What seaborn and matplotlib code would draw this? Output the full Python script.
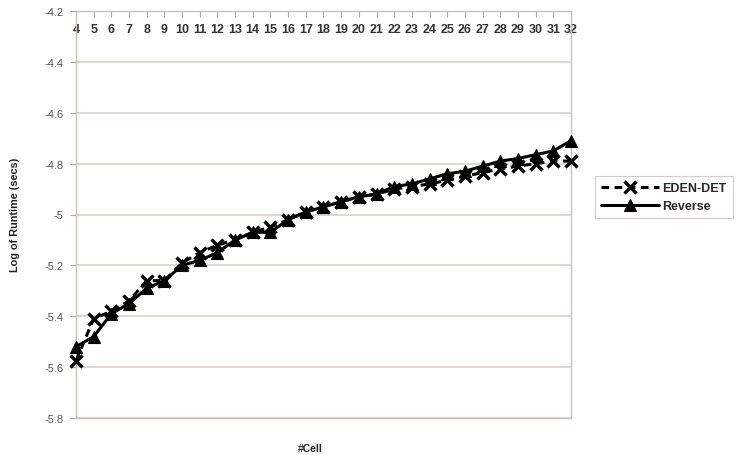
import matplotlib
matplotlib.use("Agg")
import matplotlib.pyplot as plt
import seaborn as sns
import pandas as pd

# Number of cells and log runtimes for the two methods
cells = list(range(4, 33))
eden_det = [-5.575, -5.41, -5.38, -5.34, -5.26, -5.26, -5.19, -5.15, -5.12, -5.10,
            -5.07, -5.05, -5.02, -4.99, -4.97, -4.95, -4.93, -4.92, -4.90, -4.89,
            -4.88, -4.865, -4.85, -4.835, -4.82, -4.81, -4.80, -4.79, -4.79]
reverse = [-5.52, -5.48, -5.39, -5.35, -5.29, -5.26, -5.20, -5.18, -5.15, -5.10,
           -5.07, -5.07, -5.02, -4.99, -4.97, -4.95, -4.93, -4.92, -4.89, -4.88,
           -4.86, -4.84, -4.83, -4.81, -4.79, -4.78, -4.765, -4.75, -4.71]
y_ticks = [-4.2, -4.4, -4.6, -4.8, -5.0, -5.2, -5.4, -5.6, -5.8]
y_tick_labels = ["-4.2", "-4.4", "-4.6", "-4.8", "-5", "-5.2", "-5.4", "-5.6", "-5.8"]

df = pd.DataFrame({
    "cell": cells * 2,
    "runtime": eden_det + reverse,
    "method": ["EDEN-DET"] * len(cells) + ["Reverse"] * len(cells),
})

sns.set_theme(style="white")
plt.rcParams["font.family"] = ["Liberation Sans", "DejaVu Sans"]

fig = plt.figure(figsize=(7.38, 4.56), dpi=100)
ax = fig.add_axes([76 / 738, 1 - 419 / 456, (571 - 76) / 738, (419 - 12) / 456])

grid_color = "#d8cfcc"
for yv in y_ticks:
    ax.axhline(yv, color=grid_color, lw=1.2, zorder=0)

sns.lineplot(data=df[df.method == "EDEN-DET"], x="cell", y="runtime",
             color="black", lw=2.2, ax=ax, marker="x", markersize=8,
             markeredgewidth=2.4, markeredgecolor="black",
             linestyle=(0, (2.5, 1.8)), label="EDEN-DET",
             legend=False, zorder=3, clip_on=False)
sns.lineplot(data=df[df.method == "Reverse"], x="cell", y="runtime",
             color="black", lw=2.2, ax=ax, marker="^", markersize=8.5,
             markeredgewidth=0.8, markeredgecolor="black", markerfacecolor="black",
             linestyle="-", label="Reverse",
             legend=False, zorder=3, clip_on=False)

ax.set_xlim(4, 32)
ax.set_ylim(-5.8, -4.2)
ax.set_yticks(y_ticks)
ax.set_yticklabels(y_tick_labels)
ax.set_xticks(cells)
ax.set_xticklabels([str(c) for c in cells])

ax.xaxis.set_ticks_position("top")
ax.tick_params(axis="x", which="both", top=True, bottom=False, labeltop=True,
               labelbottom=False, direction="in", length=4, width=0.8,
               color="#b0a8a5", pad=-8.5, labelsize=9, labelcolor="#333333")
for lbl in ax.get_xticklabels():
    lbl.set_fontweight("bold")
    lbl.set_verticalalignment("top")
ax.tick_params(axis="y", left=True, direction="out", length=4, width=0.8,
               color="#b0a8a5", pad=5, labelsize=8, labelcolor="#555555")

for side in ["left", "right", "top", "bottom"]:
    ax.spines[side].set_color("#c8c0bd")
    ax.spines[side].set_linewidth(1.0)

ax.set_xlabel("")
ax.set_ylabel("")
fig.text(15 / 738, 1 - 215 / 456, "Log of Runtime (secs)", rotation=90,
         ha="center", va="center", fontsize=7.8, fontweight="bold", color="#222222")
fig.text(310 / 738, 1 - 449 / 456, "#Cell", ha="center", va="center",
         fontsize=7.5, fontweight="bold", color="#222222")

handles, labels = ax.get_legend_handles_labels()
leg = fig.legend(handles, labels, loc="upper left",
                 bbox_to_anchor=(595 / 738, 1 - 177 / 456), frameon=True,
                 fancybox=False, handlelength=4.6, handletextpad=0.3,
                 borderpad=0.5, labelspacing=0.45, borderaxespad=0,
                 prop={"size": 9, "weight": "bold"})
leg.get_frame().set_edgecolor("#c8c0bd")
leg.get_frame().set_linewidth(0.8)

fig.savefig("out.png", dpi=100)
